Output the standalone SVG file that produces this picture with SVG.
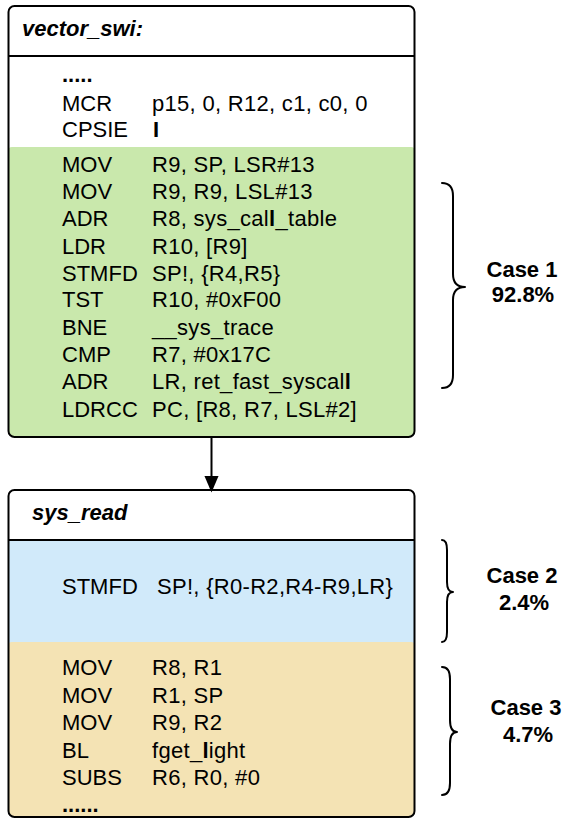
<svg xmlns="http://www.w3.org/2000/svg" width="567" height="818" viewBox="0 0 567 818">
<style>
text{font-family:"Liberation Sans",Arial,sans-serif;font-size:22px;fill:#000}
.o{letter-spacing:0.3px}
.t{font-weight:bold;font-style:italic}
.c{font-weight:bold;text-anchor:middle}
.b{font-weight:bold}
.box{fill:none;stroke:#000;stroke-width:2}
.div{stroke:#000;stroke-width:2}
.br{fill:none;stroke:#000;stroke-width:2;stroke-linecap:round;stroke-linejoin:round}
</style>
<defs>
<clipPath id="c1"><rect x="8.5" y="6" width="406" height="431" rx="6"/></clipPath>
<clipPath id="c2"><rect x="8.5" y="490" width="406" height="327" rx="6"/></clipPath>
<marker id="ah" markerWidth="17" markerHeight="20" refX="17" refY="8.5" orient="auto" markerUnits="userSpaceOnUse" viewBox="0 0 20 17">
<path d="M0,0 L20,8.5 L0,17 Z" fill="#000"/>
</marker>
</defs>
<g id="vector_swi">
<rect x="8.5" y="6" width="406" height="431" rx="6" fill="#fff"/>
<g clip-path="url(#c1)"><rect x="8" y="147" width="407" height="295" rx="4" fill="#c9e8ac"/></g>
<rect class="box" x="8.5" y="6" width="406" height="431" rx="6"/>
<line class="div" x1="8.5" y1="56" x2="414.5" y2="56"/>
<text class="t" x="22" y="36">vector_swi:</text>
<text x="62" y="82" class="b">.....</text>
<text x="62" y="111">MCR</text><text class="o" x="152" y="111">p15, 0, R12, c1, c0, 0</text>
<text x="62" y="137">CPSIE</text><text x="153" y="137" class="b">I</text>
<text x="62" y="172">MOV</text><text class="o" x="152" y="172">R9, SP, LSR#13</text>
<text x="62" y="199">MOV</text><text class="o" x="152" y="199">R9, R9, LSL#13</text>
<text x="62" y="226">ADR</text><text class="o" x="152" y="226">R8, sys_cal<tspan class="b">l</tspan>_table</text>
<text x="62" y="253.5">LDR</text><text class="o" x="152" y="253.5">R10, [R9]</text>
<text x="62" y="280.5">STMFD</text><text class="o" x="152" y="280.5">SP!, {R4,R5}</text>
<text x="62" y="307">TST</text><text class="o" x="152" y="307">R10, #0xF00</text>
<text x="62" y="334.5">BNE</text><text class="o" x="152" y="334.5">__sys_trace</text>
<text x="62" y="362">CMP</text><text class="o" x="152" y="362">R7, #0x17C</text>
<text x="62" y="389">ADR</text><text class="o" x="152" y="389">LR, ret_fast_syscal<tspan class="b">l</tspan></text>
<text x="62" y="416.5">LDRCC</text><text class="o" x="152" y="416.5">PC, [R8, R7, LSL#2]</text>
</g>
<g id="sys_read">
<rect x="8.5" y="490" width="406" height="327" rx="6" fill="#fff"/>
<g clip-path="url(#c2)">
<rect x="8" y="540" width="407" height="104" fill="#d1eafa"/>
<rect x="8" y="642" width="407" height="180" rx="4" fill="#f4e3b4"/>
</g>
<rect class="box" x="8.5" y="490" width="406" height="327" rx="6"/>
<line class="div" x1="8.5" y1="540" x2="414.5" y2="540"/>
<text class="t" x="32" y="519.5">sys_read</text>
<text x="62" y="593.5">STMFD</text><text class="o" x="157" y="593.5">SP!, {R0-R2,R4-R9,LR}</text>
<text x="62" y="675">MOV</text><text class="o" x="152" y="675">R8, R1</text>
<text x="62" y="702.5">MOV</text><text class="o" x="152" y="702.5">R1, SP</text>
<text x="62" y="730">MOV</text><text class="o" x="152" y="730">R9, R2</text>
<text x="62" y="757.5">BL</text><text class="o" x="152" y="757.5">fget_<tspan class="b">l</tspan>ight</text>
<text x="62" y="785">SUBS</text><text class="o" x="152" y="785">R6, R0, #0</text>
<text x="62" y="812" class="b">......</text>
</g>
<g id="connectors">
<line x1="211.5" y1="438" x2="211.5" y2="490" stroke="#000" stroke-width="2" marker-end="url(#ah)"/>
</g>
<g id="case1">
<path class="br" d="M442,183 Q453,183 453,196 L453,274 Q453,287 465,287 Q453,287 453,300 L453,375 Q453,388 442,388"/>
<text class="c" x="522" y="277">Case 1</text>
<text class="c" x="523" y="302">92.8%</text>
</g>
<g id="case2">
<path class="br" d="M442,540 Q447,540 447,550 L447,582 Q447,592 453,592 Q447,592 447,602 L447,632 Q447,642 442,642"/>
<text class="c" x="522" y="583">Case 2</text>
<text class="c" x="524" y="610">2.4%</text>
</g>
<g id="case3">
<path class="br" d="M442,667 Q450,667 450,679 L450,720 Q450,732 457,732 Q450,732 450,744 L450,783 Q450,795 442,795"/>
<text class="c" x="526" y="715">Case 3</text>
<text class="c" x="528" y="742">4.7%</text>
</g>
</svg>
